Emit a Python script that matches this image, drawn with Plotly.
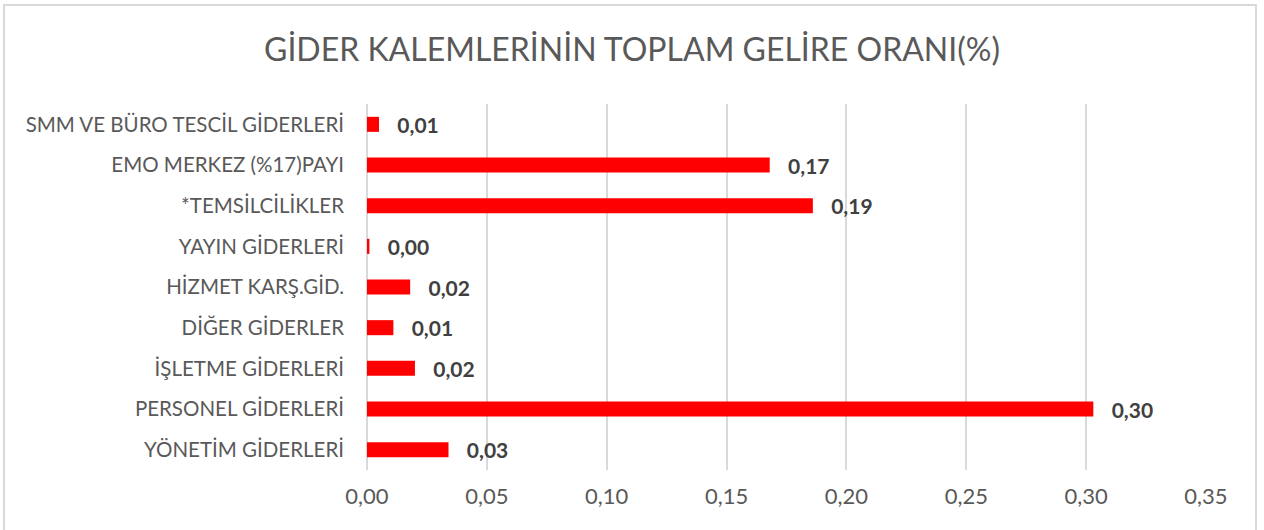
import plotly.graph_objects as go

categories = [
    "YÖNETİM GİDERLERİ",
    "PERSONEL GİDERLERİ",
    "İŞLETME GİDERLERİ",
    "DİĞER GİDERLER",
    "HİZMET KARŞ.GİD.",
    "YAYIN GİDERLERİ",
    "*TEMSİLCİLİKLER",
    "EMO MERKEZ (%17)PAYI",
    "SMM VE BÜRO TESCİL GİDERLERİ",
]
values = [0.034, 0.303, 0.020, 0.011, 0.018, 0.001, 0.186, 0.168, 0.005]
tick_vals = [0.00, 0.05, 0.10, 0.15, 0.20, 0.25, 0.30, 0.35]
tick_text = ["0,00", "0,05", "0,10", "0,15", "0,20", "0,25", "0,30", "0,35"]
title = "GİDER KALEMLERİNİN TOPLAM GELİRE ORANI(%)"

W, H = 1264, 530
ML, MR, MT, MB = 367, 58, 104, 60
pw, ph = W - ML - MR, H - MT - MB

def px_x(px):
    return (px - ML) / pw

def px_y(py):
    return 1 - (py - MT) / ph

FONT = "Lato, sans-serif"

fig = go.Figure(
    go.Bar(
        x=values,
        y=categories,
        orientation="h",
        marker=dict(color="#ff0000", line=dict(width=0)),
        text=values,
        texttemplate="   %{x:.2f}",
        textposition="outside",
        constraintext="none",
        textfont=dict(family=FONT, size=21, color="#404040", weight="bold"),
        cliponaxis=False,
        hoverinfo="skip",
    )
)

fig.update_layout(
    width=W,
    height=H,
    separators=",.",
    margin=dict(l=ML, r=MR, t=MT, b=MB, autoexpand=False),
    paper_bgcolor="white",
    plot_bgcolor="white",
    bargap=0.63,
    showlegend=False,
    title=dict(
        text=title,
        x=0.5,
        xref="container",
        xanchor="center",
        y=1 - 50 / H,
        yref="container",
        yanchor="middle",
        font=dict(family=FONT, size=32, color="#595959"),
    ),
    xaxis=dict(
        range=[0, 0.35],
        tickvals=tick_vals,
        ticktext=tick_text,
        showgrid=True,
        gridcolor="#d9d9d9",
        gridwidth=1.5,
        zeroline=True,
        zerolinecolor="#d9d9d9",
        zerolinewidth=1.5,
        showline=False,
        ticks="",
        tickfont=dict(family=FONT, size=22, color="#595959"),
        ticklabelstandoff=11,
        fixedrange=True,
    ),
    yaxis=dict(
        showgrid=False,
        showline=False,
        ticks="",
        tickfont=dict(family=FONT, size=20.5, color="#595959"),
        ticklabelstandoff=22,
        fixedrange=True,
    ),
    shapes=[
        dict(
            type="rect",
            xref="paper",
            yref="paper",
            x0=px_x(4),
            x1=px_x(1256),
            y0=px_y(540),
            y1=px_y(5),
            line=dict(color="#d9d9d9", width=2),
            fillcolor="rgba(0,0,0,0)",
            layer="below",
        )
    ],
)

fig.write_html(
    "out.html",
    config={"displayModeBar": False},
    post_script="document.body.style.margin='0';document.body.style.overflow='hidden';",
)
